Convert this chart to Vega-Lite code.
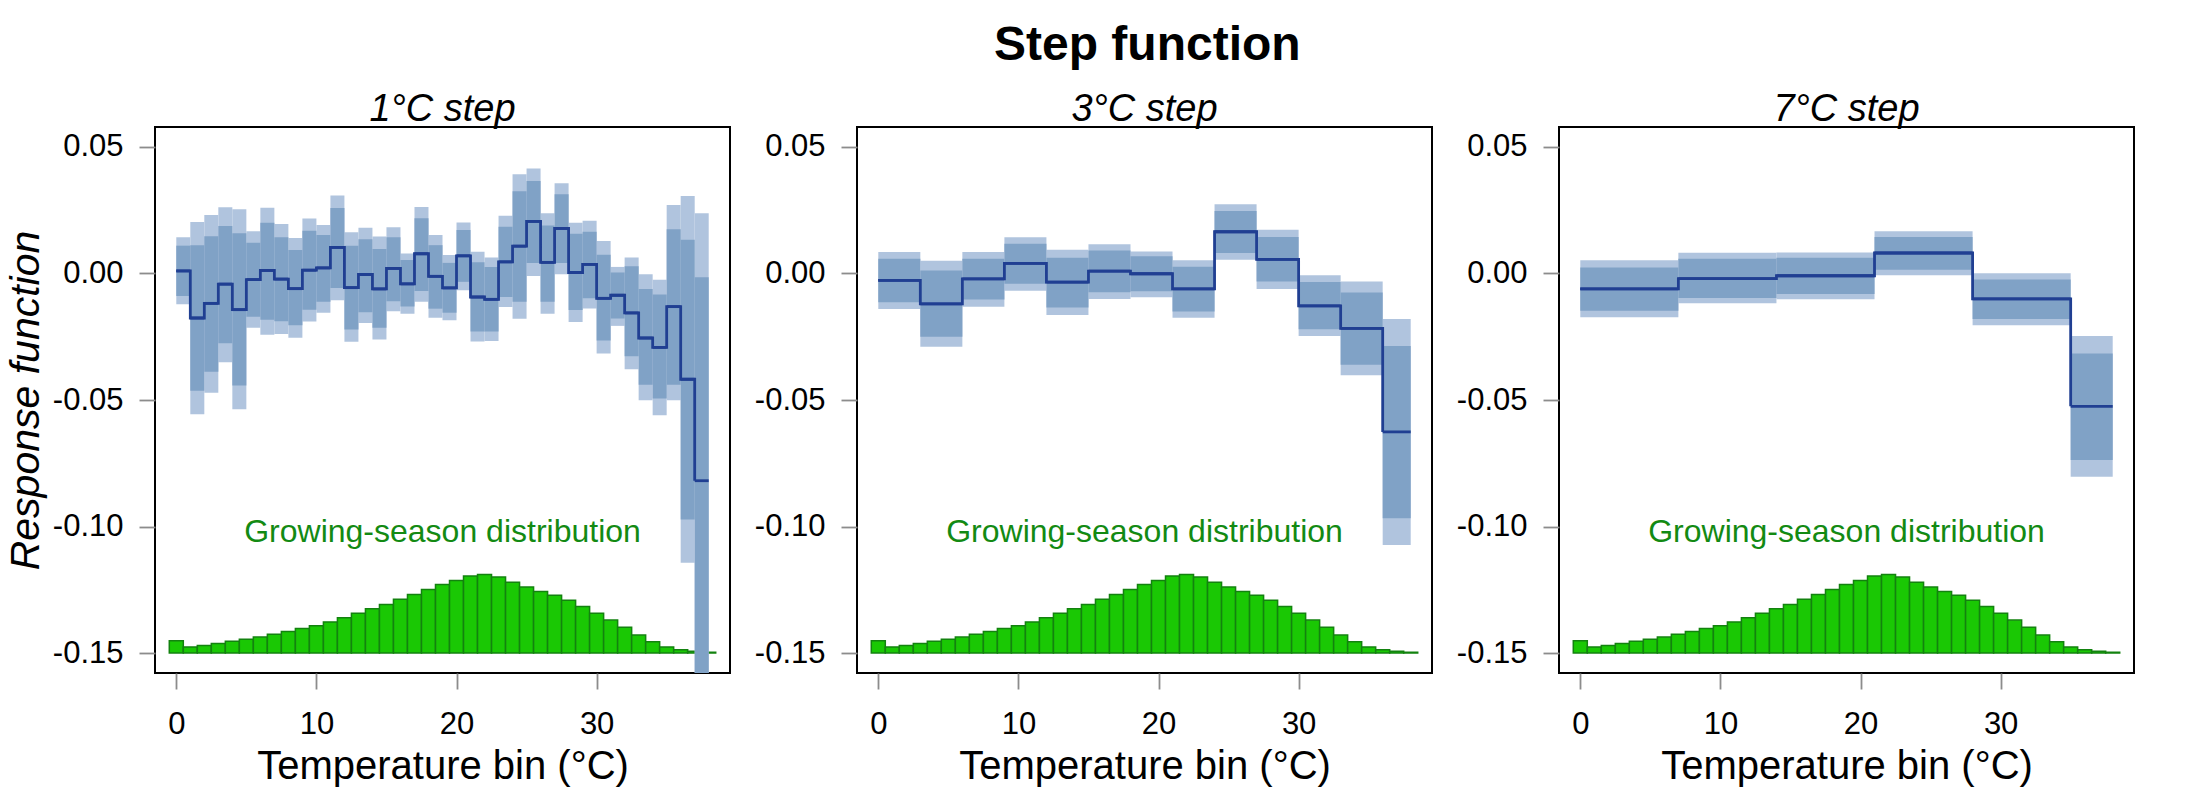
{
  "$schema": "https://vega.github.io/schema/vega-lite/v6.json",
  "padding": {"left": 4, "top": 22, "right": 0, "bottom": 0},
  "background": "white",
  "title": {"text": "Step function", "fontSize": 48, "fontWeight": "bold", "fontStyle": "normal", "offset": 20, "anchor": "start", "dx": 839},
  "spacing": 22,
  "resolve": {"scale": {"x": "independent", "y": "independent"}},
  "datasets": {
    "bands": [
      {"panel": "1C", "lo": 0, "hi": 1, "est": 0.001, "in_lo": -0.0089, "in_hi": 0.011, "out_lo": -0.0122, "out_hi": 0.0143},
      {"panel": "1C", "lo": 1, "hi": 2, "est": -0.0176, "in_lo": -0.0463, "in_hi": 0.0112, "out_lo": -0.0556, "out_hi": 0.0204},
      {"panel": "1C", "lo": 2, "hi": 3, "est": -0.0118, "in_lo": -0.0388, "in_hi": 0.0147, "out_lo": -0.0471, "out_hi": 0.0231},
      {"panel": "1C", "lo": 3, "hi": 4, "est": -0.0042, "in_lo": -0.0276, "in_hi": 0.0188, "out_lo": -0.0351, "out_hi": 0.0262},
      {"panel": "1C", "lo": 4, "hi": 5, "est": -0.0143, "in_lo": -0.0443, "in_hi": 0.0159, "out_lo": -0.0537, "out_hi": 0.0254},
      {"panel": "1C", "lo": 5, "hi": 6, "est": -0.0024, "in_lo": -0.0171, "in_hi": 0.0122, "out_lo": -0.0214, "out_hi": 0.0167},
      {"panel": "1C", "lo": 6, "hi": 7, "est": 0.0012, "in_lo": -0.0183, "in_hi": 0.0201, "out_lo": -0.0242, "out_hi": 0.026},
      {"panel": "1C", "lo": 7, "hi": 8, "est": -0.0022, "in_lo": -0.0189, "in_hi": 0.0143, "out_lo": -0.0239, "out_hi": 0.0196},
      {"panel": "1C", "lo": 8, "hi": 9, "est": -0.006, "in_lo": -0.0205, "in_hi": 0.0093, "out_lo": -0.0254, "out_hi": 0.014},
      {"panel": "1C", "lo": 9, "hi": 10, "est": 0.0013, "in_lo": -0.0143, "in_hi": 0.0169, "out_lo": -0.019, "out_hi": 0.0217},
      {"panel": "1C", "lo": 10, "hi": 11, "est": 0.0022, "in_lo": -0.0112, "in_hi": 0.0152, "out_lo": -0.0155, "out_hi": 0.0192},
      {"panel": "1C", "lo": 11, "hi": 12, "est": 0.0103, "in_lo": -0.0057, "in_hi": 0.0259, "out_lo": -0.0106, "out_hi": 0.0308},
      {"panel": "1C", "lo": 12, "hi": 13, "est": -0.0056, "in_lo": -0.0221, "in_hi": 0.011, "out_lo": -0.027, "out_hi": 0.0163},
      {"panel": "1C", "lo": 13, "hi": 14, "est": -0.0004, "in_lo": -0.0153, "in_hi": 0.0135, "out_lo": -0.0196, "out_hi": 0.0181},
      {"panel": "1C", "lo": 14, "hi": 15, "est": -0.0061, "in_lo": -0.0214, "in_hi": 0.0097, "out_lo": -0.0261, "out_hi": 0.0146},
      {"panel": "1C", "lo": 15, "hi": 16, "est": 0.002, "in_lo": -0.011, "in_hi": 0.0143, "out_lo": -0.0149, "out_hi": 0.0183},
      {"panel": "1C", "lo": 16, "hi": 17, "est": -0.0041, "in_lo": -0.013, "in_hi": 0.0053, "out_lo": -0.0159, "out_hi": 0.0079},
      {"panel": "1C", "lo": 17, "hi": 18, "est": 0.0078, "in_lo": -0.0069, "in_hi": 0.0218, "out_lo": -0.0112, "out_hi": 0.0263},
      {"panel": "1C", "lo": 18, "hi": 19, "est": -0.0011, "in_lo": -0.0139, "in_hi": 0.0112, "out_lo": -0.0175, "out_hi": 0.0152},
      {"panel": "1C", "lo": 19, "hi": 20, "est": -0.0057, "in_lo": -0.0155, "in_hi": 0.0042, "out_lo": -0.0185, "out_hi": 0.0073},
      {"panel": "1C", "lo": 20, "hi": 21, "est": 0.007, "in_lo": -0.0033, "in_hi": 0.0172, "out_lo": -0.0066, "out_hi": 0.0202},
      {"panel": "1C", "lo": 21, "hi": 22, "est": -0.0093, "in_lo": -0.0229, "in_hi": 0.0044, "out_lo": -0.0269, "out_hi": 0.0086},
      {"panel": "1C", "lo": 22, "hi": 23, "est": -0.0102, "in_lo": -0.0229, "in_hi": 0.0026, "out_lo": -0.0267, "out_hi": 0.0063},
      {"panel": "1C", "lo": 23, "hi": 24, "est": 0.0046, "in_lo": -0.0093, "in_hi": 0.0185, "out_lo": -0.0132, "out_hi": 0.0228},
      {"panel": "1C", "lo": 24, "hi": 25, "est": 0.0108, "in_lo": -0.0112, "in_hi": 0.0325, "out_lo": -0.0179, "out_hi": 0.0392},
      {"panel": "1C", "lo": 25, "hi": 26, "est": 0.0206, "in_lo": 0.0041, "in_hi": 0.0366, "out_lo": -0.001, "out_hi": 0.0415},
      {"panel": "1C", "lo": 26, "hi": 27, "est": 0.0044, "in_lo": -0.0112, "in_hi": 0.019, "out_lo": -0.0159, "out_hi": 0.0238},
      {"panel": "1C", "lo": 27, "hi": 28, "est": 0.0178, "in_lo": 0.0041, "in_hi": 0.0313, "out_lo": -0.0003, "out_hi": 0.0357},
      {"panel": "1C", "lo": 28, "hi": 29, "est": 0.0004, "in_lo": -0.0144, "in_hi": 0.0157, "out_lo": -0.0192, "out_hi": 0.0201},
      {"panel": "1C", "lo": 29, "hi": 30, "est": 0.0036, "in_lo": -0.0098, "in_hi": 0.0165, "out_lo": -0.0138, "out_hi": 0.0208},
      {"panel": "1C", "lo": 30, "hi": 31, "est": -0.0098, "in_lo": -0.0265, "in_hi": 0.0074, "out_lo": -0.0316, "out_hi": 0.0128},
      {"panel": "1C", "lo": 31, "hi": 32, "est": -0.0086, "in_lo": -0.0178, "in_hi": 0.0004, "out_lo": -0.0207, "out_hi": 0.0026},
      {"panel": "1C", "lo": 32, "hi": 33, "est": -0.0156, "in_lo": -0.0327, "in_hi": 0.0029, "out_lo": -0.0378, "out_hi": 0.0063},
      {"panel": "1C", "lo": 33, "hi": 34, "est": -0.0255, "in_lo": -0.044, "in_hi": -0.0061, "out_lo": -0.0501, "out_hi": -0.0003},
      {"panel": "1C", "lo": 34, "hi": 35, "est": -0.0292, "in_lo": -0.0494, "in_hi": -0.0083, "out_lo": -0.056, "out_hi": -0.0025},
      {"panel": "1C", "lo": 35, "hi": 36, "est": -0.0131, "in_lo": -0.044, "in_hi": 0.0175, "out_lo": -0.0501, "out_hi": 0.0271},
      {"panel": "1C", "lo": 36, "hi": 37, "est": -0.0418, "in_lo": -0.0972, "in_hi": 0.0133, "out_lo": -0.1143, "out_hi": 0.0306},
      {"panel": "1C", "lo": 37, "hi": 38, "est": -0.0819, "in_lo": -0.175, "in_hi": -0.0015, "out_lo": -0.2, "out_hi": 0.0238},
      {"panel": "3C", "lo": 0, "hi": 3, "est": -0.0027, "in_lo": -0.0114, "in_hi": 0.0058, "out_lo": -0.014, "out_hi": 0.0085},
      {"panel": "3C", "lo": 3, "hi": 6, "est": -0.012, "in_lo": -0.025, "in_hi": 0.0012, "out_lo": -0.029, "out_hi": 0.005},
      {"panel": "3C", "lo": 6, "hi": 9, "est": -0.0021, "in_lo": -0.0103, "in_hi": 0.0058, "out_lo": -0.0131, "out_hi": 0.0085},
      {"panel": "3C", "lo": 9, "hi": 12, "est": 0.004, "in_lo": -0.0041, "in_hi": 0.0118, "out_lo": -0.0068, "out_hi": 0.0143},
      {"panel": "3C", "lo": 12, "hi": 15, "est": -0.0034, "in_lo": -0.0134, "in_hi": 0.0062, "out_lo": -0.0164, "out_hi": 0.0094},
      {"panel": "3C", "lo": 15, "hi": 18, "est": 0.0009, "in_lo": -0.0074, "in_hi": 0.0091, "out_lo": -0.0101, "out_hi": 0.0116},
      {"panel": "3C", "lo": 18, "hi": 21, "est": -0.0001, "in_lo": -0.007, "in_hi": 0.0068, "out_lo": -0.0094, "out_hi": 0.0087},
      {"panel": "3C", "lo": 21, "hi": 24, "est": -0.0061, "in_lo": -0.015, "in_hi": 0.0027, "out_lo": -0.0175, "out_hi": 0.0052},
      {"panel": "3C", "lo": 24, "hi": 27, "est": 0.0165, "in_lo": 0.0081, "in_hi": 0.0247, "out_lo": 0.0054, "out_hi": 0.0274},
      {"panel": "3C", "lo": 27, "hi": 30, "est": 0.0056, "in_lo": -0.0032, "in_hi": 0.0144, "out_lo": -0.0061, "out_hi": 0.0173},
      {"panel": "3C", "lo": 30, "hi": 33, "est": -0.0128, "in_lo": -0.022, "in_hi": -0.0034, "out_lo": -0.0247, "out_hi": -0.0007},
      {"panel": "3C", "lo": 33, "hi": 36, "est": -0.0217, "in_lo": -0.0361, "in_hi": -0.0075, "out_lo": -0.0402, "out_hi": -0.0032},
      {"panel": "3C", "lo": 36, "hi": 38, "est": -0.0626, "in_lo": -0.0967, "in_hi": -0.0287, "out_lo": -0.1073, "out_hi": -0.018},
      {"panel": "7C", "lo": 0, "hi": 7, "est": -0.0061, "in_lo": -0.0147, "in_hi": 0.0024, "out_lo": -0.0173, "out_hi": 0.0052},
      {"panel": "7C", "lo": 7, "hi": 14, "est": -0.002, "in_lo": -0.0097, "in_hi": 0.0058, "out_lo": -0.0118, "out_hi": 0.0082},
      {"panel": "7C", "lo": 14, "hi": 21, "est": -0.0009, "in_lo": -0.0081, "in_hi": 0.0062, "out_lo": -0.0102, "out_hi": 0.0083},
      {"panel": "7C", "lo": 21, "hi": 28, "est": 0.0081, "in_lo": 0.0015, "in_hi": 0.0144, "out_lo": -0.0007, "out_hi": 0.0167},
      {"panel": "7C", "lo": 28, "hi": 35, "est": -0.01, "in_lo": -0.018, "in_hi": -0.0024, "out_lo": -0.0205, "out_hi": 0.0001},
      {"panel": "7C", "lo": 35, "hi": 38, "est": -0.0525, "in_lo": -0.0737, "in_hi": -0.0316, "out_lo": -0.0803, "out_hi": -0.0247}
    ],
    "hist": [
      {"lo": -0.5, "hi": 0.5, "top": -0.1452},
      {"lo": 0.5, "hi": 1.5, "top": -0.1476},
      {"lo": 1.5, "hi": 2.5, "top": -0.147},
      {"lo": 2.5, "hi": 3.5, "top": -0.1462},
      {"lo": 3.5, "hi": 4.5, "top": -0.1454},
      {"lo": 4.5, "hi": 5.5, "top": -0.1446},
      {"lo": 5.5, "hi": 6.5, "top": -0.1437},
      {"lo": 6.5, "hi": 7.5, "top": -0.1426},
      {"lo": 7.5, "hi": 8.5, "top": -0.1415},
      {"lo": 8.5, "hi": 9.5, "top": -0.1403},
      {"lo": 9.5, "hi": 10.5, "top": -0.1392},
      {"lo": 10.5, "hi": 11.5, "top": -0.1377},
      {"lo": 11.5, "hi": 12.5, "top": -0.1361},
      {"lo": 12.5, "hi": 13.5, "top": -0.1343},
      {"lo": 13.5, "hi": 14.5, "top": -0.1325},
      {"lo": 14.5, "hi": 15.5, "top": -0.1308},
      {"lo": 15.5, "hi": 16.5, "top": -0.1288},
      {"lo": 16.5, "hi": 17.5, "top": -0.1269},
      {"lo": 17.5, "hi": 18.5, "top": -0.1249},
      {"lo": 18.5, "hi": 19.5, "top": -0.1229},
      {"lo": 19.5, "hi": 20.5, "top": -0.1213},
      {"lo": 20.5, "hi": 21.5, "top": -0.1196},
      {"lo": 21.5, "hi": 22.5, "top": -0.119},
      {"lo": 22.5, "hi": 23.5, "top": -0.12},
      {"lo": 23.5, "hi": 24.5, "top": -0.122},
      {"lo": 24.5, "hi": 25.5, "top": -0.1239},
      {"lo": 25.5, "hi": 26.5, "top": -0.1257},
      {"lo": 26.5, "hi": 27.5, "top": -0.1272},
      {"lo": 27.5, "hi": 28.5, "top": -0.1291},
      {"lo": 28.5, "hi": 29.5, "top": -0.1316},
      {"lo": 29.5, "hi": 30.5, "top": -0.1343},
      {"lo": 30.5, "hi": 31.5, "top": -0.137},
      {"lo": 31.5, "hi": 32.5, "top": -0.1398},
      {"lo": 32.5, "hi": 33.5, "top": -0.1429},
      {"lo": 33.5, "hi": 34.5, "top": -0.1455},
      {"lo": 34.5, "hi": 35.5, "top": -0.1476},
      {"lo": 35.5, "hi": 36.5, "top": -0.1487},
      {"lo": 36.5, "hi": 37.5, "top": -0.1493},
      {"lo": 37.5, "hi": 38.5, "top": -0.1497}
    ],
    "note": [
      {"lo": 19, "y": -0.102, "label": "Growing-season distribution"}
    ]
  },
  "hconcat": [
    {
      "title": "1°C step",
      "width": 575,
      "height": 546,
      "layer": [
        {
          "data": {"name": "hist"},
          "mark": {"type": "rect", "fill": "#1ac804", "stroke": "#13820f", "strokeWidth": 1.5},
          "encoding": {
            "x": {"field": "lo", "type": "quantitative", "title": "Temperature bin (°C)", "scale": {"domain": [-1.52, 39.52], "nice": false, "zero": false}, "axis": {"values": [0, 10, 20, 30]}},
            "x2": {"field": "hi"},
            "y": {"field": "top", "type": "quantitative", "title": "Response function", "scale": {"domain": [-0.1579, 0.0579], "nice": false, "zero": false}, "axis": {"values": [0.05, 0, -0.05, -0.1, -0.15]}},
            "y2": {"datum": -0.15}
          }
        },
        {
          "data": {"name": "bands"},
          "transform": [{"filter": "datum.panel == '1C'"}],
          "mark": {"type": "rect", "fill": "#b0c4de", "clip": true},
          "encoding": {
            "x": {"field": "lo", "type": "quantitative", "title": "Temperature bin (°C)"},
            "x2": {"field": "hi"},
            "y": {"field": "out_lo", "type": "quantitative", "title": "Response function"},
            "y2": {"field": "out_hi"}
          }
        },
        {
          "data": {"name": "bands"},
          "transform": [{"filter": "datum.panel == '1C'"}],
          "mark": {"type": "rect", "fill": "#80a2c6", "clip": true},
          "encoding": {
            "x": {"field": "lo", "type": "quantitative", "title": "Temperature bin (°C)"},
            "x2": {"field": "hi"},
            "y": {"field": "in_lo", "type": "quantitative", "title": "Response function"},
            "y2": {"field": "in_hi"}
          }
        },
        {
          "mark": {"type": "rule", "color": "black", "strokeWidth": 1.8, "strokeDash": [8, 5]},
          "encoding": {"y": {"datum": 0}}
        },
        {
          "data": {"name": "bands"},
          "transform": [{"filter": "datum.panel == '1C'"}],
          "mark": {"type": "line", "interpolate": "step-after", "color": "#203f92", "strokeWidth": 2.8},
          "encoding": {
            "x": {"field": "lo", "type": "quantitative", "title": "Temperature bin (°C)"},
            "y": {"field": "est", "type": "quantitative", "title": "Response function"}
          }
        },
        {
          "data": {"name": "bands"},
          "transform": [{"filter": "datum.panel == '1C'"}],
          "mark": {"type": "rule", "color": "#203f92", "strokeWidth": 2.8},
          "encoding": {
            "x": {"field": "lo", "type": "quantitative", "title": "Temperature bin (°C)"},
            "x2": {"field": "hi"},
            "y": {"field": "est", "type": "quantitative", "title": "Response function"}
          }
        },
        {
          "data": {"name": "note"},
          "mark": {"type": "text", "color": "#138a13", "fontSize": 32, "baseline": "middle", "align": "center"},
          "encoding": {
            "x": {"field": "lo", "type": "quantitative", "title": "Temperature bin (°C)"},
            "y": {"field": "y", "type": "quantitative", "title": "Response function"},
            "text": {"field": "label"}
          }
        }
      ]
    },
    {
      "title": "3°C step",
      "width": 575,
      "height": 546,
      "layer": [
        {
          "data": {"name": "hist"},
          "mark": {"type": "rect", "fill": "#1ac804", "stroke": "#13820f", "strokeWidth": 1.5},
          "encoding": {
            "x": {"field": "lo", "type": "quantitative", "title": "Temperature bin (°C)", "scale": {"domain": [-1.52, 39.52], "nice": false, "zero": false}, "axis": {"values": [0, 10, 20, 30]}},
            "x2": {"field": "hi"},
            "y": {"field": "top", "type": "quantitative", "title": null, "scale": {"domain": [-0.1579, 0.0579], "nice": false, "zero": false}, "axis": {"values": [0.05, 0, -0.05, -0.1, -0.15]}},
            "y2": {"datum": -0.15}
          }
        },
        {
          "data": {"name": "bands"},
          "transform": [{"filter": "datum.panel == '3C'"}],
          "mark": {"type": "rect", "fill": "#b0c4de", "clip": true},
          "encoding": {
            "x": {"field": "lo", "type": "quantitative", "title": "Temperature bin (°C)"},
            "x2": {"field": "hi"},
            "y": {"field": "out_lo", "type": "quantitative", "title": null},
            "y2": {"field": "out_hi"}
          }
        },
        {
          "data": {"name": "bands"},
          "transform": [{"filter": "datum.panel == '3C'"}],
          "mark": {"type": "rect", "fill": "#80a2c6", "clip": true},
          "encoding": {
            "x": {"field": "lo", "type": "quantitative", "title": "Temperature bin (°C)"},
            "x2": {"field": "hi"},
            "y": {"field": "in_lo", "type": "quantitative", "title": null},
            "y2": {"field": "in_hi"}
          }
        },
        {
          "mark": {"type": "rule", "color": "black", "strokeWidth": 1.8, "strokeDash": [8, 5]},
          "encoding": {"y": {"datum": 0}}
        },
        {
          "data": {"name": "bands"},
          "transform": [{"filter": "datum.panel == '3C'"}],
          "mark": {"type": "line", "interpolate": "step-after", "color": "#203f92", "strokeWidth": 2.8},
          "encoding": {
            "x": {"field": "lo", "type": "quantitative", "title": "Temperature bin (°C)"},
            "y": {"field": "est", "type": "quantitative", "title": null}
          }
        },
        {
          "data": {"name": "bands"},
          "transform": [{"filter": "datum.panel == '3C'"}],
          "mark": {"type": "rule", "color": "#203f92", "strokeWidth": 2.8},
          "encoding": {
            "x": {"field": "lo", "type": "quantitative", "title": "Temperature bin (°C)"},
            "x2": {"field": "hi"},
            "y": {"field": "est", "type": "quantitative", "title": null}
          }
        },
        {
          "data": {"name": "note"},
          "mark": {"type": "text", "color": "#138a13", "fontSize": 32, "baseline": "middle", "align": "center"},
          "encoding": {
            "x": {"field": "lo", "type": "quantitative", "title": "Temperature bin (°C)"},
            "y": {"field": "y", "type": "quantitative", "title": null},
            "text": {"field": "label"}
          }
        }
      ]
    },
    {
      "title": "7°C step",
      "width": 575,
      "height": 546,
      "layer": [
        {
          "data": {"name": "hist"},
          "mark": {"type": "rect", "fill": "#1ac804", "stroke": "#13820f", "strokeWidth": 1.5},
          "encoding": {
            "x": {"field": "lo", "type": "quantitative", "title": "Temperature bin (°C)", "scale": {"domain": [-1.52, 39.52], "nice": false, "zero": false}, "axis": {"values": [0, 10, 20, 30]}},
            "x2": {"field": "hi"},
            "y": {"field": "top", "type": "quantitative", "title": null, "scale": {"domain": [-0.1579, 0.0579], "nice": false, "zero": false}, "axis": {"values": [0.05, 0, -0.05, -0.1, -0.15]}},
            "y2": {"datum": -0.15}
          }
        },
        {
          "data": {"name": "bands"},
          "transform": [{"filter": "datum.panel == '7C'"}],
          "mark": {"type": "rect", "fill": "#b0c4de", "clip": true},
          "encoding": {
            "x": {"field": "lo", "type": "quantitative", "title": "Temperature bin (°C)"},
            "x2": {"field": "hi"},
            "y": {"field": "out_lo", "type": "quantitative", "title": null},
            "y2": {"field": "out_hi"}
          }
        },
        {
          "data": {"name": "bands"},
          "transform": [{"filter": "datum.panel == '7C'"}],
          "mark": {"type": "rect", "fill": "#80a2c6", "clip": true},
          "encoding": {
            "x": {"field": "lo", "type": "quantitative", "title": "Temperature bin (°C)"},
            "x2": {"field": "hi"},
            "y": {"field": "in_lo", "type": "quantitative", "title": null},
            "y2": {"field": "in_hi"}
          }
        },
        {
          "mark": {"type": "rule", "color": "black", "strokeWidth": 1.8, "strokeDash": [8, 5]},
          "encoding": {"y": {"datum": 0}}
        },
        {
          "data": {"name": "bands"},
          "transform": [{"filter": "datum.panel == '7C'"}],
          "mark": {"type": "line", "interpolate": "step-after", "color": "#203f92", "strokeWidth": 2.8},
          "encoding": {
            "x": {"field": "lo", "type": "quantitative", "title": "Temperature bin (°C)"},
            "y": {"field": "est", "type": "quantitative", "title": null}
          }
        },
        {
          "data": {"name": "bands"},
          "transform": [{"filter": "datum.panel == '7C'"}],
          "mark": {"type": "rule", "color": "#203f92", "strokeWidth": 2.8},
          "encoding": {
            "x": {"field": "lo", "type": "quantitative", "title": "Temperature bin (°C)"},
            "x2": {"field": "hi"},
            "y": {"field": "est", "type": "quantitative", "title": null}
          }
        },
        {
          "data": {"name": "note"},
          "mark": {"type": "text", "color": "#138a13", "fontSize": 32, "baseline": "middle", "align": "center"},
          "encoding": {
            "x": {"field": "lo", "type": "quantitative", "title": "Temperature bin (°C)"},
            "y": {"field": "y", "type": "quantitative", "title": null},
            "text": {"field": "label"}
          }
        }
      ]
    }
  ],
  "config": {
    "font": "Liberation Sans",
    "view": {"stroke": "black", "strokeWidth": 2},
    "title": {"font": "Liberation Sans", "fontSize": 38, "fontStyle": "italic", "fontWeight": "normal", "color": "black", "offset": -2, "anchor": "middle", "frame": "group"},
    "axis": {
      "grid": false,
      "domain": false,
      "tickColor": "#8c8c8c",
      "tickWidth": 1.8,
      "tickSize": 16,
      "labelFont": "Liberation Sans",
      "labelFontSize": 31,
      "labelColor": "black",
      "labelFlush": false,
      "titleFont": "Liberation Sans",
      "titleFontSize": 40,
      "titleFontWeight": "normal",
      "titleColor": "black"
    },
    "axisX": {"labelPadding": 20, "titlePadding": 7},
    "axisY": {
      "labelPadding": 16,
      "titlePadding": 5,
      "minExtent": 103,
      "maxExtent": 103,
      "titleFontStyle": "italic",
      "titleFontSize": 41,
      "labelExpr": "replace(format(datum.value, '.2f'), '−', '-')"
    }
  }
}
